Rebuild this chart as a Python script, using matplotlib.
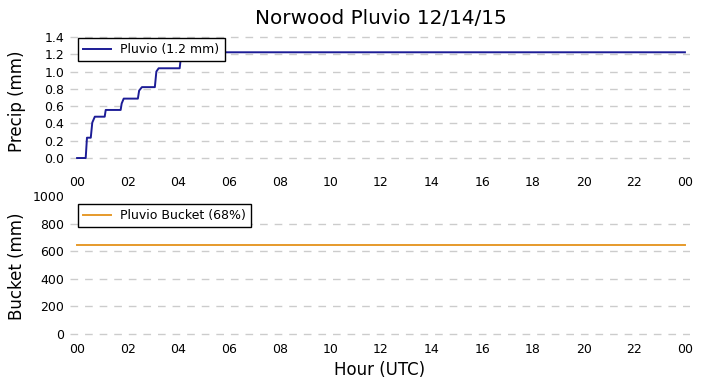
import matplotlib
matplotlib.use("Agg")
import matplotlib.pyplot as plt

# Data (hours UTC)
precip_hours = [0, 0.34, 0.39, 0.54, 0.60, 0.70, 1.09, 1.13, 1.72, 1.76, 1.84,
                2.40, 2.45, 2.56, 3.07, 3.13, 3.22, 4.05, 4.12, 24]
precip_mm = [0, 0, 0.235, 0.235, 0.41, 0.478, 0.478, 0.556, 0.556, 0.63, 0.687,
             0.687, 0.78, 0.82, 0.82, 1.0, 1.038, 1.038, 1.223, 1.223]
bucket_hours = [0, 24]
bucket_mm = [645, 645]
xtick_pos = list(range(0, 25, 2))
xtick_labels = ["%02d" % (h % 24) for h in xtick_pos]
precip_ticks = [0.0, 0.2, 0.4, 0.6, 0.8, 1.0, 1.2, 1.4]
bucket_ticks = [0, 200, 400, 600, 800, 1000]

W, H = 703, 388
fig = plt.figure(figsize=(W / 100, H / 100), dpi=100)

def ax_px(left, top, right, bottom):
    return fig.add_axes([left / W, 1 - bottom / H, (right - left) / W, (bottom - top) / H])

ax1 = ax_px(70, 33, 690, 169)
ax2 = ax_px(70, 196, 690, 336)

blue = "#1c1c96"
orange = "#e69a2b"

ax1.plot(precip_hours, precip_mm, color=blue, lw=1.4, label="Pluvio (1.2 mm)")
ax2.plot(bucket_hours, bucket_mm, color=orange, lw=1.4, label="Pluvio Bucket (68%)")

xl = (-0.28, 24.2)
ax1.set_xlim(*xl)
ax2.set_xlim(*xl)
ax1.set_ylim(-0.127, 1.446)
ax2.set_ylim(-14.5, 1000)
ax1.set_yticks(precip_ticks)
ax1.set_yticklabels(["%.1f" % v for v in precip_ticks])
ax2.set_yticks(bucket_ticks)

for ax in (ax1, ax2):
    ax.set_xticks(xtick_pos)
    ax.set_xticklabels(xtick_labels)
    for s in ax.spines.values():
        s.set_visible(False)
    ax.tick_params(length=0, labelsize=9, pad=5, colors="black")
    ax.tick_params(axis="y", pad=4)
    ax.yaxis.grid(True, color="#cccccc", linestyle=(0, (5.5, 5)), lw=1)
    ax.set_axisbelow(True)

# reference shows no gridline at the top tick of the bucket panel
ax2.yaxis.get_gridlines()[-1].set_visible(False)

ax1.set_ylabel("Precip (mm)", fontsize=12)
ax2.set_ylabel("Bucket (mm)", fontsize=12)
ax1.yaxis.set_label_coords(-44 / 620, 0.5)
ax2.yaxis.set_label_coords(-44 / 620, 0.5)
ax2.set_xlabel("Hour (UTC)", fontsize=12)
ax2.xaxis.set_label_coords(0.5, -25 / 140)

fig.text(381 / W, 1 - 19 / H, "Norwood Pluvio 12/14/15", fontsize=14.4,
         ha="center", va="center")

for ax, ytop in ((ax1, 1 - 5 / 136), (ax2, 1 - 8 / 140)):
    leg = ax.legend(loc="upper left", bbox_to_anchor=(8 / 620, ytop),
                    borderaxespad=0, fontsize=9, fancybox=False, framealpha=1,
                    handlelength=2.2)
    leg.get_frame().set_edgecolor("black")
    leg.get_frame().set_linewidth(1.0)

fig.savefig("out.png", dpi=100)
